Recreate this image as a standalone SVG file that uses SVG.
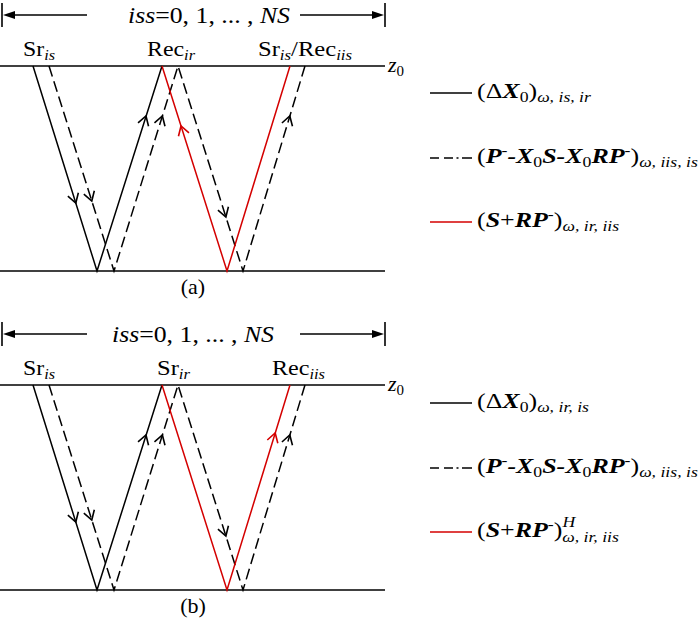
<svg xmlns="http://www.w3.org/2000/svg" width="700" height="624" viewBox="0 0 700 624">
<style>
text{font-family:"Liberation Serif","Times New Roman",serif;fill:#000;font-size:22px}
.big{font-size:23px}
.s{font-size:15px;font-style:italic}
.n{font-size:15px}
.bi{font-weight:bold;font-style:italic}
.it{font-style:italic}
.ln{stroke:#000;stroke-width:1.6;fill:none}
.k{stroke:#000;stroke-width:1.5;fill:none}
.d{stroke:#000;stroke-width:1.5;fill:none;stroke-dasharray:11 5}
.r{stroke:#d40000;stroke-width:1.5;fill:none}
.ck{fill:none;stroke:#000;stroke-width:1.6}
.cr{fill:none;stroke:#d40000;stroke-width:1.6}
</style>
<defs>
<path id="ch" d="M-9,-5.5 L0,0 L-9,5.5"/>
<path id="ahl" d="M0,0 L12,-4 L12,4 Z"/>
<path id="ahr" d="M0,0 L-12,-4 L-12,4 Z"/>
</defs>

<!-- ===== Panel (a) ===== -->
<g id="panel-a">
<g id="range-a">
<line class="ln" x1="2" y1="3" x2="2" y2="27"/>
<line class="ln" x1="385" y1="3" x2="385" y2="27"/>
<line class="ln" x1="12" y1="15" x2="87" y2="15"/>
<line class="ln" x1="300" y1="15" x2="374" y2="15"/>
<use href="#ahl" x="3" y="15"/>
<use href="#ahr" x="384" y="15"/>
<text class="big" x="128" y="23" textLength="162" lengthAdjust="spacingAndGlyphs"><tspan class="it">iss</tspan>=0, 1, ... , <tspan class="it">NS</tspan></text>
</g>
<g id="surfaces-a">
<line class="ln" x1="0" y1="66" x2="385" y2="66"/>
<line class="ln" x1="0" y1="271" x2="385" y2="271"/>
<text x="388" y="72" class="it">z<tspan class="n" font-style="normal" dy="4">0</tspan></text>
</g>
<g id="sr-is-a"><text x="23" y="56" textLength="32" lengthAdjust="spacingAndGlyphs">Sr<tspan class="s" dy="4">is</tspan></text></g>
<g id="rec-ir-a"><text x="147" y="56" textLength="48" lengthAdjust="spacingAndGlyphs">Rec<tspan class="s" dy="4">ir</tspan></text></g>
<g id="sr-rec-a"><text x="258" y="56" textLength="94" lengthAdjust="spacingAndGlyphs">Sr<tspan class="s" dy="4">is</tspan><tspan dy="-4">/Rec</tspan><tspan class="s" dy="4">iis</tspan></text></g>
<g id="rays-a">
<polyline class="k" points="33,66 97,271 162,66"/>
<polyline class="d" points="49,66 114,271 178,66 243,271 305,66"/>
<polyline class="r" points="162,66 227,271 290,66"/>
<use href="#ch" class="ck" transform="translate(75.8,203) rotate(72.6)"/>
<use href="#ch" class="ck" transform="translate(91.8,201) rotate(72.4)"/>
<use href="#ch" class="ck" transform="translate(146,116) rotate(-72.4)"/>
<use href="#ch" class="ck" transform="translate(162.4,116) rotate(-72.7)"/>
<use href="#ch" class="cr" transform="translate(181,126) rotate(-107.6)"/>
<use href="#ch" class="ck" transform="translate(225.9,217) rotate(72.4)"/>
<use href="#ch" class="ck" transform="translate(289.8,116) rotate(-73.2)"/>
</g>
<text x="193" y="294" text-anchor="middle">(a)</text>
<g id="legend-a">
<line class="k" x1="430" y1="93" x2="472" y2="93"/>
<text x="477" y="98" transform="matrix(1.18 0 0 1 -85.86 0)">(Δ<tspan class="bi">X</tspan><tspan class="n" dy="4">0</tspan><tspan dy="-4">)</tspan><tspan class="s" dy="4">ω, is, ir</tspan></text>
<path class="k" d="M430,158 h9 M444,158 h9 M456.5,158 h2 M462,158 h10"/>
<text x="477" y="163" transform="matrix(1.18 0 0 1 -85.86 0)">(<tspan class="bi">P</tspan><tspan class="n" dy="-8">-</tspan><tspan class="bi" dy="8">-X</tspan><tspan class="n" dy="4">0</tspan><tspan class="bi" dy="-4">S-X</tspan><tspan class="n" dy="4">0</tspan><tspan class="bi" dy="-4">RP</tspan><tspan class="n" dy="-8">-</tspan><tspan dy="8">)</tspan><tspan class="s" dy="4">ω, iis, is</tspan></text>
<line class="r" x1="430" y1="222" x2="472" y2="222"/>
<text x="477" y="227" transform="matrix(1.18 0 0 1 -85.86 0)">(<tspan class="bi">S</tspan>+<tspan class="bi">RP</tspan><tspan class="n" dy="-8">-</tspan><tspan dy="8">)</tspan><tspan class="s" dy="4">ω, ir, iis</tspan></text>
</g>
</g>

<!-- ===== Panel (b) ===== -->
<g id="panel-b">
<g id="range-b">
<line class="ln" x1="2" y1="322" x2="2" y2="346"/>
<line class="ln" x1="385" y1="322" x2="385" y2="346"/>
<line class="ln" x1="12" y1="334" x2="87" y2="334"/>
<line class="ln" x1="300" y1="334" x2="374" y2="334"/>
<use href="#ahl" x="3" y="334"/>
<use href="#ahr" x="384" y="334"/>
<text class="big" x="112" y="342" textLength="162" lengthAdjust="spacingAndGlyphs"><tspan class="it">iss</tspan>=0, 1, ... , <tspan class="it">NS</tspan></text>
</g>
<g id="surfaces-b">
<line class="ln" x1="0" y1="385" x2="385" y2="385"/>
<line class="ln" x1="0" y1="590" x2="385" y2="590"/>
<text x="388" y="391" class="it">z<tspan class="n" font-style="normal" dy="4">0</tspan></text>
</g>
<g id="sr-is-b"><text x="23" y="375" textLength="32" lengthAdjust="spacingAndGlyphs">Sr<tspan class="s" dy="4">is</tspan></text></g>
<g id="sr-ir-b"><text x="157" y="375" textLength="33" lengthAdjust="spacingAndGlyphs">Sr<tspan class="s" dy="4">ir</tspan></text></g>
<g id="rec-iis-b"><text x="272" y="375" textLength="53" lengthAdjust="spacingAndGlyphs">Rec<tspan class="s" dy="4">iis</tspan></text></g>
<g id="rays-b">
<polyline class="k" points="33,385 97,590 162,385"/>
<polyline class="d" points="49,385 114,590 178,385 243,590 305,385"/>
<polyline class="r" points="162,385 227,590 290,385"/>
<use href="#ch" class="ck" transform="translate(75.8,522) rotate(72.6)"/>
<use href="#ch" class="ck" transform="translate(91.8,520) rotate(72.4)"/>
<use href="#ch" class="ck" transform="translate(146,435) rotate(-72.4)"/>
<use href="#ch" class="ck" transform="translate(162.4,435) rotate(-72.7)"/>
<use href="#ch" class="cr" transform="translate(275.2,433) rotate(-72.9)"/>
<use href="#ch" class="ck" transform="translate(225.9,536) rotate(72.4)"/>
<use href="#ch" class="ck" transform="translate(289.8,435) rotate(-73.2)"/>
</g>
<text x="193" y="613" text-anchor="middle">(b)</text>
<g id="legend-b">
<line class="k" x1="430" y1="403" x2="472" y2="403"/>
<text x="477" y="408" transform="matrix(1.18 0 0 1 -85.86 0)">(Δ<tspan class="bi">X</tspan><tspan class="n" dy="4">0</tspan><tspan dy="-4">)</tspan><tspan class="s" dy="4">ω, ir, is</tspan></text>
<path class="k" d="M430,468 h9 M444,468 h9 M456.5,468 h2 M462,468 h10"/>
<text x="477" y="473" transform="matrix(1.18 0 0 1 -85.86 0)">(<tspan class="bi">P</tspan><tspan class="n" dy="-8">-</tspan><tspan class="bi" dy="8">-X</tspan><tspan class="n" dy="4">0</tspan><tspan class="bi" dy="-4">S-X</tspan><tspan class="n" dy="4">0</tspan><tspan class="bi" dy="-4">RP</tspan><tspan class="n" dy="-8">-</tspan><tspan dy="8">)</tspan><tspan class="s" dy="4">ω, iis, is</tspan></text>
<line class="r" x1="430" y1="532" x2="472" y2="532"/>
<text x="477" y="537" transform="matrix(1.18 0 0 1 -85.86 0)">(<tspan class="bi">S</tspan>+<tspan class="bi">RP</tspan><tspan class="n" dy="-8">-</tspan><tspan dy="8">)</tspan><tspan class="s" dy="-10">H</tspan><tspan class="s" dx="-11" dy="15">ω, ir, iis</tspan></text>
</g>
</g>
</svg>
